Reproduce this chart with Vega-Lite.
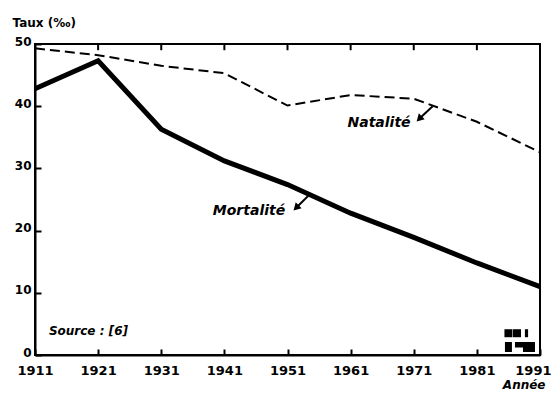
{
  "$schema": "https://vega.github.io/schema/vega-lite/v6.json",
  "width": 505,
  "height": 311,
  "autosize": {"type": "none"},
  "padding": {"left": 35, "top": 44, "right": 11, "bottom": 39},
  "background": "white",
  "config": {
    "view": {"stroke": "black", "strokeWidth": 2},
    "font": "DejaVu Sans"
  },
  "datasets": {
    "taux": [
      {"annee": 1911, "serie": "Natalité", "taux": 49.3},
      {"annee": 1921, "serie": "Natalité", "taux": 48.2},
      {"annee": 1931, "serie": "Natalité", "taux": 46.5},
      {"annee": 1941, "serie": "Natalité", "taux": 45.3},
      {"annee": 1951, "serie": "Natalité", "taux": 40.1},
      {"annee": 1961, "serie": "Natalité", "taux": 41.8},
      {"annee": 1971, "serie": "Natalité", "taux": 41.2},
      {"annee": 1981, "serie": "Natalité", "taux": 37.5},
      {"annee": 1991, "serie": "Natalité", "taux": 32.6},
      {"annee": 1911, "serie": "Mortalité", "taux": 42.8},
      {"annee": 1921, "serie": "Mortalité", "taux": 47.3},
      {"annee": 1931, "serie": "Mortalité", "taux": 36.3},
      {"annee": 1941, "serie": "Mortalité", "taux": 31.2},
      {"annee": 1951, "serie": "Mortalité", "taux": 27.4},
      {"annee": 1961, "serie": "Mortalité", "taux": 22.8},
      {"annee": 1971, "serie": "Mortalité", "taux": 18.9},
      {"annee": 1981, "serie": "Mortalité", "taux": 14.8},
      {"annee": 1991, "serie": "Mortalité", "taux": 11.0}
    ],
    "decennies": [
      {"annee": 1921}, {"annee": 1931}, {"annee": 1941}, {"annee": 1951},
      {"annee": 1961}, {"annee": 1971}, {"annee": 1981}
    ],
    "etiquettes": [
      {"label": "Natalité", "annee": 1965.5, "taux": 37.3, "a1": 1974.0, "t1": 40.0, "a2": 1972.0, "t2": 38.1},
      {"label": "Mortalité", "annee": 1944.9, "taux": 23.2, "a1": 1954.6, "t1": 25.9, "a2": 1952.5, "t2": 23.8}
    ],
    "source": [
      {"label": "Source : [6]", "annee": 1913.2, "taux": 3.9}
    ],
    "titre": [
      {"label": "Figure 1 : Transition démographique", "annee": 1912.06, "taux": 57.85}
    ],
    "logo_carres": [
      {"annee": 1986.0, "taux": 3.5},
      {"annee": 1987.36, "taux": 3.5}
    ],
    "logo_fin": [
      {"annee": 1988.86, "taux": 3.5}
    ],
    "logo_bas": [
      {"annee": 1986.0, "taux": 1.29}
    ],
    "logo_sept": [
      {"annee": 1988.62, "taux": 1.29}
    ]
  },
  "layer": [
    {
      "data": {"name": "taux"},
      "transform": [{"filter": "datum.serie === 'Natalité'"}],
      "mark": {"type": "line", "color": "black", "strokeWidth": 2, "strokeDash": [10, 5]},
      "encoding": {
        "x": {
          "field": "annee", "type": "quantitative",
          "scale": {"domain": [1911, 1991], "nice": false, "zero": false},
          "axis": {
            "values": [1911, 1921, 1931, 1941, 1951, 1961, 1971, 1981, 1991],
            "format": "d", "grid": false,
            "domainColor": "black", "domainWidth": 2,
            "tickColor": "black", "tickWidth": 2, "tickSize": -6,
            "labelFont": "DejaVu Sans", "labelFontSize": 13, "labelFontWeight": "bold",
            "labelColor": "black", "labelPadding": 15, "labelFlush": false, "labelOverlap": false,
            "labelAlign": {"condition": {"test": "datum.value == 1991", "value": "right"}, "value": "center"},
            "labelOffset": {"condition": {"test": "datum.value == 1991", "value": 11}, "value": 0},
            "title": "Année", "titleFont": "DejaVu Sans", "titleFontSize": 12,
            "titleFontWeight": "bold", "titleFontStyle": "italic", "titleColor": "black",
            "titleAlign": "right", "titleX": 510, "titleY": 29, "titleBaseline": "middle"
          }
        },
        "y": {
          "field": "taux", "type": "quantitative",
          "scale": {"domain": [0, 50], "nice": false},
          "axis": {
            "values": [0, 10, 20, 30, 40, 50], "grid": false,
            "domainColor": "black", "domainWidth": 2,
            "tickColor": "black", "tickWidth": 2, "tickSize": -6,
            "labelFont": "DejaVu Sans", "labelFontSize": 12, "labelFontWeight": "bold",
            "labelColor": "black", "labelPadding": 10, "labelFlush": false, "labelOffset": -3,
            "title": "Taux (‰)", "titleFont": "DejaVu Sans", "titleFontSize": 12,
            "titleFontWeight": "bold", "titleColor": "black", "titleAngle": 0,
            "titleAlign": "left", "titleBaseline": "middle", "titleX": -23, "titleY": -22
          }
        }
      }
    },
    {
      "data": {"name": "decennies"},
      "mark": {"type": "rule", "color": "black", "strokeWidth": 2},
      "encoding": {
        "x": {"field": "annee", "type": "quantitative"},
        "y": {"datum": 50},
        "y2": {"datum": 49}
      }
    },
    {
      "data": {"name": "taux"},
      "transform": [{"filter": "datum.serie === 'Mortalité'"}],
      "mark": {"type": "line", "color": "black", "strokeWidth": 5, "strokeJoin": "miter"},
      "encoding": {
        "x": {"field": "annee", "type": "quantitative"},
        "y": {"field": "taux", "type": "quantitative"}
      }
    },
    {
      "data": {"name": "etiquettes"},
      "mark": {"type": "rule", "color": "black", "strokeWidth": 2},
      "encoding": {
        "x": {"field": "a1", "type": "quantitative"},
        "y": {"field": "t1", "type": "quantitative"},
        "x2": {"field": "a2"},
        "y2": {"field": "t2"}
      }
    },
    {
      "data": {"name": "etiquettes"},
      "mark": {"type": "point", "shape": "triangle", "filled": true, "color": "black", "size": 70, "opacity": 1, "angle": 225},
      "encoding": {
        "x": {"field": "a2", "type": "quantitative"},
        "y": {"field": "t2", "type": "quantitative"}
      }
    },
    {
      "data": {"name": "etiquettes"},
      "mark": {"type": "text", "font": "DejaVu Sans", "fontSize": 14, "fontWeight": "bold", "fontStyle": "italic", "color": "black", "align": "center", "baseline": "middle"},
      "encoding": {
        "x": {"field": "annee", "type": "quantitative"},
        "y": {"field": "taux", "type": "quantitative"},
        "text": {"field": "label"}
      }
    },
    {
      "data": {"name": "source"},
      "mark": {"type": "text", "font": "DejaVu Sans", "fontSize": 12, "fontWeight": "bold", "fontStyle": "italic", "color": "black", "align": "left", "baseline": "middle"},
      "encoding": {
        "x": {"field": "annee", "type": "quantitative"},
        "y": {"field": "taux", "type": "quantitative"},
        "text": {"field": "label"}
      }
    },
    {
      "data": {"name": "logo_carres"},
      "mark": {"type": "point", "shape": "square", "filled": true, "color": "black", "opacity": 1, "size": 64},
      "encoding": {
        "x": {"field": "annee", "type": "quantitative"},
        "y": {"field": "taux", "type": "quantitative"}
      }
    },
    {
      "data": {"name": "logo_fin"},
      "mark": {"type": "point", "shape": "M-0.4,-1L0.4,-1L0.4,1L-0.4,1Z", "filled": true, "color": "black", "opacity": 1, "size": 64},
      "encoding": {
        "x": {"field": "annee", "type": "quantitative"},
        "y": {"field": "taux", "type": "quantitative"}
      }
    },
    {
      "data": {"name": "logo_bas"},
      "mark": {"type": "point", "shape": "M-0.7,-1L0.7,-1L0.7,1L-0.7,1Z", "filled": true, "color": "black", "opacity": 1, "size": 100},
      "encoding": {
        "x": {"field": "annee", "type": "quantitative"},
        "y": {"field": "taux", "type": "quantitative"}
      }
    },
    {
      "data": {"name": "logo_sept"},
      "mark": {"type": "point", "shape": "M-1,-0.5L1,-0.5L1,0.5L-0.2,0.5L-0.2,0.05L-1,0.05Z", "filled": true, "color": "black", "opacity": 1, "size": 400},
      "encoding": {
        "x": {"field": "annee", "type": "quantitative"},
        "y": {"field": "taux", "type": "quantitative"}
      }
    },
    {
      "data": {"name": "titre"},
      "mark": {"type": "text", "font": "Liberation Serif", "fontSize": 24, "fontWeight": "bold", "color": "black", "align": "left", "baseline": "alphabetic", "clip": false},
      "encoding": {
        "x": {"field": "annee", "type": "quantitative"},
        "y": {"field": "taux", "type": "quantitative"},
        "text": {"field": "label"}
      }
    }
  ]
}
